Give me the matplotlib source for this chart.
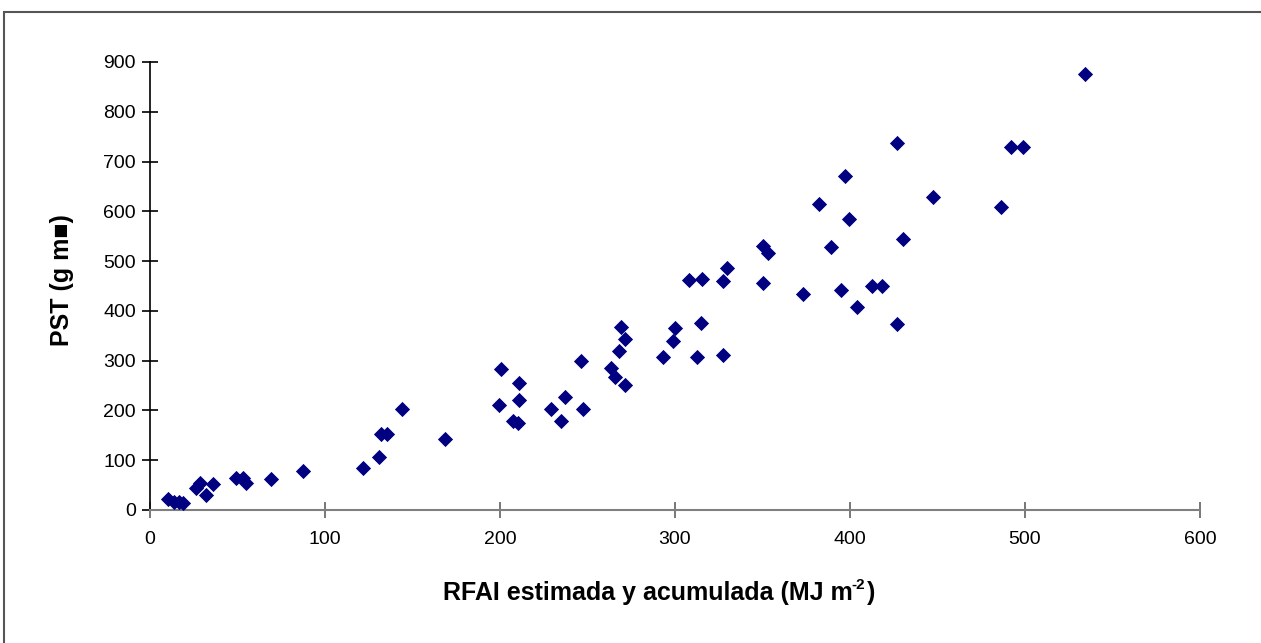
import matplotlib
matplotlib.use("Agg")
import matplotlib.pyplot as plt
from matplotlib.patches import Rectangle
from matplotlib.transforms import offset_copy

# RFAI estimada y acumulada (MJ m-2) vs PST (g m-2)
rfai = [10.3, 13.5, 16.5, 19.0, 26.0, 28.6, 32.0, 36.0, 49.0, 53.0, 55.0, 69.0, 87.6,
        121.5, 131.0, 131.8, 135.2, 143.8, 168.6,
        200.6, 210.9, 199.4, 210.9, 207.6, 210.1, 229.1, 237.1, 234.9, 247.2, 246.3,
        263.4, 265.7, 271.4, 268.0, 271.4, 269.1,
        293.3, 299.0, 300.0, 312.8, 314.9, 327.6, 308.0, 315.2, 327.6, 329.9,
        350.5, 353.0, 350.5, 373.3, 389.1, 382.5, 397.3, 399.6, 394.9, 404.0,
        412.8, 418.0, 427.0, 430.5, 447.6,
        427.0, 492.0, 499.0, 486.3, 534.5]
pst = [22, 17, 17, 15, 45, 54, 30, 52, 64, 64, 55, 63, 79,
       84, 107, 152, 152, 203, 143,
       284, 256, 211, 220, 179, 175, 203, 228, 179, 203, 300,
       285, 268, 251, 320, 344, 368,
       308, 340, 365, 308, 376, 312, 462, 464, 461, 486,
       530, 517, 457, 433, 529, 614, 670, 585, 441, 408,
       449, 449, 373, 545, 629,
       738, 730, 730, 609, 875]

xticks = [0, 100, 200, 300, 400, 500, 600]
yticks = [0, 100, 200, 300, 400, 500, 600, 700, 800, 900]

plt.rcParams['font.family'] = ['Liberation Sans', 'DejaVu Sans']

fig = plt.figure(figsize=(12.61, 6.43), dpi=100)
ax = fig.add_axes([150 / 1261, 1 - 510 / 643, 1050 / 1261, 448 / 643])

ax.scatter(rfai, pst, marker='D', s=60, c='#000080', linewidths=0, zorder=3)

ax.set_xlim(0, 600)
ax.set_ylim(0, 900)
ax.set_xticks(xticks)
ax.set_yticks(yticks)
ax.tick_params(axis='both', direction='inout', length=12, width=1.2, labelsize=14, colors='black')
ax.tick_params(axis='x', pad=9, color='#606060')
ax.tick_params(axis='y', pad=4)
ax.spines['top'].set_visible(False)
ax.spines['right'].set_visible(False)
ax.spines['bottom'].set_color('#808080')
ax.spines['bottom'].set_linewidth(1.5)
ax.spines['left'].set_color('black')
ax.spines['left'].set_linewidth(1.2)
for sp in ax.spines.values():
    sp.set_clip_on(False)

# x label with a real hyphen in the superscript, built from pieces
renderer = fig.canvas.get_renderer()
x0 = 443 / 1261
yb = 1 - 600 / 643
t1 = fig.text(x0, yb, 'RFAI estimada y acumulada (MJ m', ha='left', va='baseline',
              fontsize=18, fontweight='bold')
w1 = t1.get_window_extent(renderer).width
t2 = fig.text(x0, yb, '-2', ha='left', va='baseline', fontsize=11, fontweight='bold',
              transform=offset_copy(fig.transFigure, fig=fig, x=w1 * 0.72 - 1, y=8, units='points'))
w2 = t2.get_window_extent(renderer).width
fig.text(x0, yb, ')', ha='left', va='baseline', fontsize=18, fontweight='bold',
         transform=offset_copy(fig.transFigure, fig=fig, x=(w1 + w2) * 0.72 + 0.5, y=0, units='points'))

fig.text(62 / 1261, 1 - 280 / 643, 'PST (g m\u25a0)', rotation=90,
         ha='center', va='center', fontsize=18, fontweight='bold')

# outer chart border (only left and top edges are visible)
fig.add_artist(Rectangle((4 / 1261, -0.1), 1.2, 1 - 12 / 643 + 0.1, transform=fig.transFigure,
                         fill=False, edgecolor='#555555', linewidth=1.5))

fig.savefig('out.png', dpi=100, facecolor='white')
